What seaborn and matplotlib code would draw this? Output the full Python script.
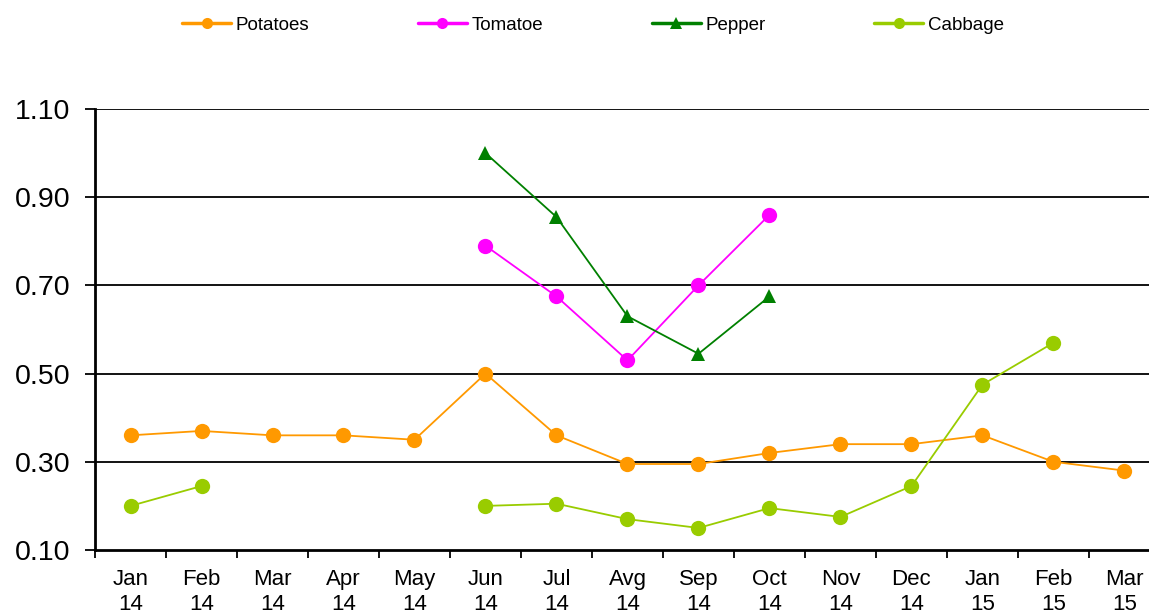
import numpy as np
import pandas as pd
import seaborn as sns
import matplotlib
matplotlib.use("Agg")
import matplotlib.pyplot as plt
from matplotlib.ticker import FixedLocator, FormatStrFormatter
from matplotlib.lines import Line2D

months = ["Jan\n14", "Feb\n14", "Mar\n14", "Apr\n14", "May\n14", "Jun\n14", "Jul\n14",
          "Avg\n14", "Sep\n14", "Oct\n14", "Nov\n14", "Dec\n14", "Jan\n15", "Feb\n15", "Mar\n15"]

nan = np.nan
potatoes = [0.36, 0.37, 0.36, 0.36, 0.35, 0.50, 0.36, 0.295, 0.295, 0.32, 0.34, 0.34, 0.36, 0.30, 0.28]
tomatoe = [nan, nan, nan, nan, nan, 0.79, 0.675, 0.53, 0.70, 0.86, nan, nan, nan, nan, nan]
pepper = [nan, nan, nan, nan, nan, 1.00, 0.855, 0.63, 0.545, 0.675, nan, nan, nan, nan, nan]
cabbage = [0.20, 0.245, nan, nan, nan, 0.20, 0.205, 0.17, 0.15, 0.195, 0.175, 0.245, 0.475, 0.57, nan]

series = [
    ("Potatoes", potatoes, "#FF9900", "o"),
    ("Tomatoe", tomatoe, "#FF00FF", "o"),
    ("Pepper", pepper, "#008000", "^"),
    ("Cabbage", cabbage, "#99CC00", "o"),
]

sns.set_style("white")
plt.rcParams["font.family"] = ["Liberation Sans", "DejaVu Sans"]
plt.rcParams["text.color"] = "black"
plt.rcParams["xtick.color"] = "black"
plt.rcParams["ytick.color"] = "black"

fig = plt.figure(figsize=(11.49, 6.14), dpi=100)
ax = fig.add_axes([95 / 1149, 64 / 614, 1065 / 1149, 441 / 614])

x = np.arange(len(months))
handles = []
for name, vals, color, marker in series:
    df = pd.DataFrame({"x": x, "y": vals})
    # split into contiguous runs so gaps are not bridged
    df["seg"] = df["y"].isna().cumsum()
    df = df.dropna()
    for _, seg in df.groupby("seg"):
        sns.lineplot(data=seg, x="x", y="y", color=color, marker=marker,
                     markersize=11 if marker == "o" else 10, markeredgewidth=0,
                     linewidth=1.3, ax=ax, legend=False, sort=False)
    handles.append(Line2D([], [], color=color, marker=marker, markersize=8,
                          markeredgewidth=0, linewidth=2.5, label=name))

ax.set_xlim(-0.5, len(months) - 0.5)
ax.set_ylim(0.10, 1.10)
ax.set_yticks(np.arange(0.10, 1.11, 0.20))
ax.yaxis.set_major_formatter(FormatStrFormatter("%.2f"))
ax.set_xticks(x)
ax.set_xticklabels(months, fontsize=16, linespacing=1.25)
ax.xaxis.set_minor_locator(FixedLocator(np.arange(-0.5, len(months), 1.0)))
ax.tick_params(axis="x", which="major", bottom=True, length=0, pad=14)
ax.tick_params(axis="x", which="minor", bottom=True, length=6, width=1.3, direction="out")
ax.tick_params(axis="y", left=True, labelsize=20.5, length=7, width=1.3, direction="out", pad=11)
ax.set_xlabel("")
ax.set_ylabel("")

ax.grid(False)
for yv in np.arange(0.30, 1.11, 0.20):
    ax.axhline(yv, color="black", linewidth=1.3, zorder=0)

for s in ["top", "right"]:
    ax.spines[s].set_visible(False)
for s in ["left", "bottom"]:
    ax.spines[s].set_color("black")
    ax.spines[s].set_linewidth(2)

fig.legend(handles=handles, loc="center", bbox_to_anchor=(593 / 1149, 1 - 25 / 614),
           ncol=4, frameon=False, fontsize=13.5, handlelength=2.6, handletextpad=0.25,
           columnspacing=5.8)

fig.savefig("out.png", dpi=100)
